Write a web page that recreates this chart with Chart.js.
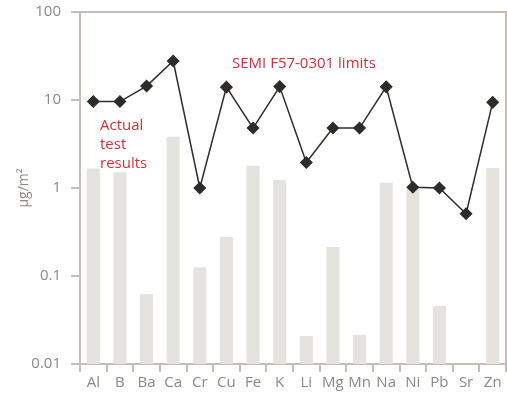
<!DOCTYPE html>
<html>
<head>
<meta charset="utf-8">
<script src="https://cdn.jsdelivr.net/npm/chart.js@4/dist/chart.umd.min.js"></script>
<style>
  html, body { margin: 0; padding: 0; background: #fff; }
  #wrap { width: 507px; height: 398px; }
</style>
</head>
<body>
<div id="wrap"><canvas id="chart"></canvas></div>
<script>
const elements = ['Al', 'B', 'Ba', 'Ca', 'Cr', 'Cu', 'Fe', 'K', 'Li', 'Mg', 'Mn', 'Na', 'Ni', 'Pb', 'Sr', 'Zn'];
const testResults = [1.67, 1.51, 0.062, 3.83, 0.126, 0.277, 1.79, 1.23, 0.0208, 0.214, 0.0214, 1.15, 0.98, 0.0456, null, 1.69];
const semiLimits = [9.6, 9.6, 14.4, 27.7, 1.0, 14.0, 4.8, 14.2, 1.95, 4.8, 4.8, 14.1, 1.02, 1.0, 0.51, 9.4];
const yTicks = [0.01, 0.1, 1, 10, 100];
const yTickLabels = ['0.01', '0.1', '1', '10', '100'];

const frameColor = '#c6beb6';
const textGray = '#8d8782';
const red = '#d22f3b';
const fontFamily = "'Open Sans', 'DejaVu Sans', sans-serif";

// top and right frame lines + the red text labels
const notes = {
    id: 'notes',
    afterDraw(chart) {
        const ctx = chart.ctx;
        const a = chart.chartArea;
        ctx.save();
        ctx.strokeStyle = frameColor;
        ctx.lineWidth = 2;
        ctx.beginPath();
        ctx.moveTo(a.left - 9, a.top);
        ctx.lineTo(a.right, a.top);
        ctx.lineTo(a.right, a.bottom + 8);
        ctx.stroke();

        ctx.fillStyle = red;
        ctx.font = '15px ' + fontFamily;
        ctx.textAlign = 'left';
        ctx.textBaseline = 'alphabetic';
        ctx.fillText('SEMI F57-0301 limits', a.left + 152, a.top + 56);
        ['Actual', 'test', 'results'].forEach((t, i) => {
            ctx.fillText(t, a.left + 20, a.top + 118 + i * 19);
        });
        ctx.restore();
    }
};

new Chart(document.getElementById('chart'), {
    data: {
        labels: elements,
        datasets: [{
            type: 'line',
            label: 'SEMI F57-0301 limits',
            data: semiLimits,
            borderColor: '#2d2c29',
            borderWidth: 1.5,
            pointStyle: 'rectRot',
            pointRadius: 5.5,
            pointBackgroundColor: '#2d2c29',
            pointBorderColor: '#2d2c29',
            tension: 0,
            order: 0
        }, {
            type: 'bar',
            label: 'Actual test results',
            data: testResults,
            backgroundColor: '#e5e3df',
            barPercentage: 0.49,
            categoryPercentage: 1,
            order: 1
        }]
    },
    options: {
        responsive: true,
        maintainAspectRatio: false,
        animation: false,
        layout: { autoPadding: false, padding: { top: 12, right: 1, left: 0, bottom: 0 } },
        plugins: {
            legend: { display: false },
            tooltip: { enabled: false }
        },
        scales: {
            x: {
                type: 'category',
                offset: true,
                grid: {
                    offset: true,
                    drawOnChartArea: false,
                    tickColor: frameColor,
                    lineWidth: 2,
                    tickLength: 8
                },
                border: { color: frameColor, width: 2 },
                ticks: {
                    color: textGray,
                    font: { family: fontFamily, size: 15 },
                    padding: 2,
                    maxRotation: 0,
                    autoSkip: false
                },
                afterFit: (scale) => {
                    scale.height = 34;
                    scale.paddingLeft = 0;
                    scale.paddingRight = 0;
                }
            },
            y: {
                type: 'logarithmic',
                min: 0.01,
                max: 100,
                afterBuildTicks: (scale) => {
                    scale.ticks = yTicks.map(v => ({ value: v }));
                },
                grid: {
                    drawOnChartArea: false,
                    tickColor: frameColor,
                    lineWidth: 2,
                    tickLength: 9
                },
                border: { color: frameColor, width: 2 },
                ticks: {
                    color: textGray,
                    font: { family: fontFamily, size: 15 },
                    padding: 10,
                    callback: (v) => {
                        const i = yTicks.indexOf(v);
                        return i >= 0 ? yTickLabels[i] : '';
                    }
                },
                title: {
                    display: true,
                    text: 'μg/m²',
                    color: textGray,
                    font: { family: fontFamily, size: 14 },
                    padding: { top: 16, bottom: 0 }
                },
                afterFit: (scale) => {
                    scale.width = 80;
                    scale.paddingTop = 0;
                    scale.paddingBottom = 0;
                }
            }
        }
    },
    plugins: [notes]
});
</script>
</body>
</html>
